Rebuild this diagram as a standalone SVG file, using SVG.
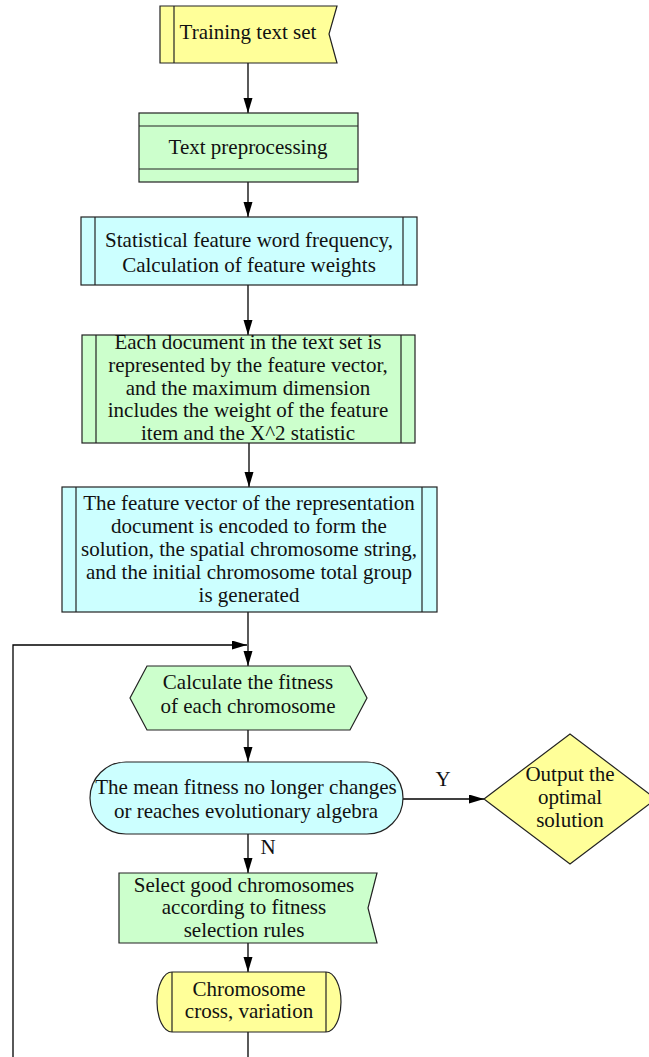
<svg xmlns="http://www.w3.org/2000/svg" width="649" height="1057" viewBox="0 0 649 1057">
<style>
.n{stroke:#222;stroke-width:1.2}
.y{fill:#FFFF99}
.g{fill:#CCFFCC}
.c{fill:#CCFFFF}
.l{fill:none;stroke:#222;stroke-width:1.2}
text{font-family:'Liberation Serif','DejaVu Serif',serif;font-size:21px;fill:#111;text-anchor:middle}
.e{stroke:#000;stroke-width:1.3;fill:none}
</style>
<defs>
<marker id="a" markerUnits="userSpaceOnUse" markerWidth="16" markerHeight="10" refX="15" refY="4.5" orient="auto">
<path d="M0,0 L15,4.5 L0,9 Z" fill="#000"/>
</marker>
</defs>
<rect width="649" height="1057" fill="#fff"/>
<g id="connectors">
<line class="e" x1="248" y1="63" x2="248" y2="113" marker-end="url(#a)"/>
<line class="e" x1="248" y1="182" x2="248" y2="217" marker-end="url(#a)"/>
<line class="e" x1="248" y1="285" x2="248" y2="335" marker-end="url(#a)"/>
<line class="e" x1="249" y1="443" x2="249" y2="487" marker-end="url(#a)"/>
<line class="e" x1="248" y1="612" x2="248" y2="666" marker-end="url(#a)"/>
<polyline class="e" points="13,1057 13,645 247,645" marker-end="url(#a)"/>
<line class="e" x1="248" y1="730" x2="248" y2="762" marker-end="url(#a)"/>
<line class="e" x1="403" y1="799" x2="484" y2="799" marker-end="url(#a)"/>
<text x="443" y="786">Y</text>
<line class="e" x1="248" y1="834" x2="248" y2="873" marker-end="url(#a)"/>
<text x="268" y="854">N</text>
<line class="e" x1="248" y1="943" x2="248" y2="972" marker-end="url(#a)"/>
<line class="e" x1="248" y1="1032" x2="248" y2="1057"/>
</g>
<g id="n1">
<polygon class="n y" points="160,6 337,6 329,34 337,63 160,63"/>
<line class="l" x1="174" y1="6" x2="174" y2="63"/>
<text x="248" y="39">Training text set</text>
</g>
<g id="n2">
<rect class="n g" x="139" y="113" width="219" height="69"/>
<line class="l" x1="139" y1="126" x2="358" y2="126"/>
<line class="l" x1="139" y1="169" x2="358" y2="169"/>
<text x="248" y="154">Text preprocessing</text>
</g>
<g id="n3">
<rect class="n c" x="81" y="217" width="336" height="68"/>
<line class="l" x1="95" y1="217" x2="95" y2="285"/>
<line class="l" x1="403" y1="217" x2="403" y2="285"/>
<text x="249" y="247">Statistical feature word frequency,</text>
<text x="249" y="272">Calculation of feature weights</text>
</g>
<g id="n4">
<rect class="n g" x="82" y="335" width="333" height="108"/>
<line class="l" x1="96" y1="335" x2="96" y2="443"/>
<line class="l" x1="401" y1="335" x2="401" y2="443"/>
<text x="248" y="349">Each document in the text set is</text>
<text x="248" y="372">represented by the feature vector,</text>
<text x="248" y="395">and the maximum dimension</text>
<text x="248" y="417">includes the weight of the feature</text>
<text x="248" y="440">item and the X^2 statistic</text>
</g>
<g id="n5">
<rect class="n c" x="62" y="487" width="375" height="125"/>
<line class="l" x1="76" y1="487" x2="76" y2="612"/>
<line class="l" x1="422" y1="487" x2="422" y2="612"/>
<text x="249" y="510">The feature vector of the representation</text>
<text x="249" y="533">document is encoded to form the</text>
<text x="249" y="556">solution, the spatial chromosome string,</text>
<text x="249" y="579">and the initial chromosome total group</text>
<text x="249" y="602">is generated</text>
</g>
<g id="n6">
<polygon class="n g" points="130,698 147,666 350,666 367,698 350,730 147,730"/>
<text x="248" y="689">Calculate the fitness</text>
<text x="248" y="713">of each chromosome</text>
</g>
<g id="n7">
<rect class="n c" x="90" y="762" width="313" height="72" rx="36" ry="36"/>
<text x="246" y="794">The mean fitness no longer changes</text>
<text x="246" y="818">or reaches evolutionary algebra</text>
</g>
<g id="n8">
<polygon class="n y" points="484,799 570,734 656,799 570,864"/>
<text x="570" y="781">Output the</text>
<text x="570" y="804">optimal</text>
<text x="570" y="827">solution</text>
</g>
<g id="n9">
<polygon class="n g" points="119,873 377,873 368,908 377,943 119,943"/>
<text x="244" y="892">Select good chromosomes</text>
<text x="244" y="914">according to fitness</text>
<text x="244" y="937">selection rules</text>
</g>
<g id="n10">
<path class="n y" d="M172,972 L326,972 A15,30 0 0 1 326,1032 L172,1032 A15,30 0 0 1 172,972 Z"/>
<line class="l" x1="172" y1="972" x2="172" y2="1032"/>
<line class="l" x1="326" y1="972" x2="326" y2="1032"/>
<text x="249" y="996">Chromosome</text>
<text x="249" y="1018">cross, variation</text>
</g>
</svg>
